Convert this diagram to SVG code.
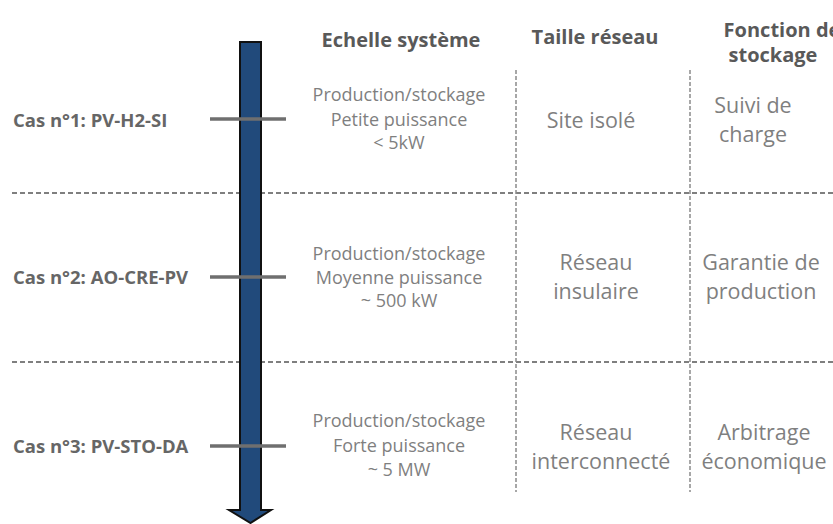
<svg xmlns="http://www.w3.org/2000/svg" width="833" height="524" viewBox="0 0 833 524">
<style>
.h{font-family:"Open Sans","Liberation Sans",sans-serif;font-weight:bold;font-size:20px;fill:#595959;text-anchor:middle}
.c{font-family:"Open Sans","Liberation Sans",sans-serif;font-weight:bold;font-size:18.5px;fill:#666}
.s{font-family:"Open Sans","Liberation Sans",sans-serif;font-size:18px;fill:#7f7f7f;text-anchor:middle}
.b{font-family:"Open Sans","Liberation Sans",sans-serif;font-size:21.5px;fill:#7f7f7f;text-anchor:middle}
.dh{stroke:#7f7f7f;stroke-width:2.2;stroke-dasharray:5 3;fill:none}
.dv{stroke:#8a8a8a;stroke-width:1.5;stroke-dasharray:4 2;fill:none}
.t{stroke:#6f6f6f;stroke-width:3.5}
</style>
<rect width="833" height="524" fill="#fff"/>
<g id="grid">
<line class="dh" x1="12" y1="193" x2="833" y2="193"/>
<line class="dh" x1="12" y1="362" x2="833" y2="362"/>
<line class="dv" x1="516" y1="70" x2="516" y2="492"/>
<line class="dv" x1="690" y1="70" x2="690" y2="492"/>
</g>
<g id="arrow">
<path d="M240 42 H261 V510 H271 L250.5 523 L229 510 H240 Z" fill="#214a7b" stroke="#111" stroke-width="2" stroke-linejoin="miter"/>
</g>
<g id="ticks">
<line class="t" x1="210" y1="119" x2="286" y2="119"/>
<line class="t" x1="210" y1="277" x2="286" y2="277"/>
<line class="t" x1="210" y1="446" x2="286" y2="446"/>
</g>
<g id="headers">
<text class="h" x="401" y="47">Echelle système</text>
<text class="h" x="595" y="44">Taille réseau</text>
<text class="h" x="782" y="37">Fonction de</text>
<text class="h" x="773" y="62">stockage</text>
</g>
<g id="case1">
<text class="c" x="13" y="127">Cas n°1: PV-H2-SI</text>
<text class="s" x="399" y="101">Production/stockage</text>
<text class="s" x="399" y="126">Petite puissance</text>
<text class="s" x="399" y="149">&lt; 5kW</text>
<text class="b" x="591" y="128">Site isolé</text>
<text class="b" x="753" y="113">Suivi de</text>
<text class="b" x="753" y="142">charge</text>
</g>
<g id="case2">
<text class="c" x="13" y="284">Cas n°2: AO-CRE-PV</text>
<text class="s" x="399" y="260">Production/stockage</text>
<text class="s" x="399" y="284">Moyenne puissance</text>
<text class="s" x="399" y="307">~ 500 kW</text>
<text class="b" x="596" y="270">Réseau</text>
<text class="b" x="596" y="299">insulaire</text>
<text class="b" x="761" y="270">Garantie de</text>
<text class="b" x="761" y="299">production</text>
</g>
<g id="case3">
<text class="c" x="13" y="453">Cas n°3: PV-STO-DA</text>
<text class="s" x="399" y="427">Production/stockage</text>
<text class="s" x="399" y="452">Forte puissance</text>
<text class="s" x="399" y="476">~ 5 MW</text>
<text class="b" x="596" y="440">Réseau</text>
<text class="b" x="601" y="469">interconnecté</text>
<text class="b" x="764" y="440">Arbitrage</text>
<text class="b" x="764" y="469">économique</text>
</g>
</svg>
